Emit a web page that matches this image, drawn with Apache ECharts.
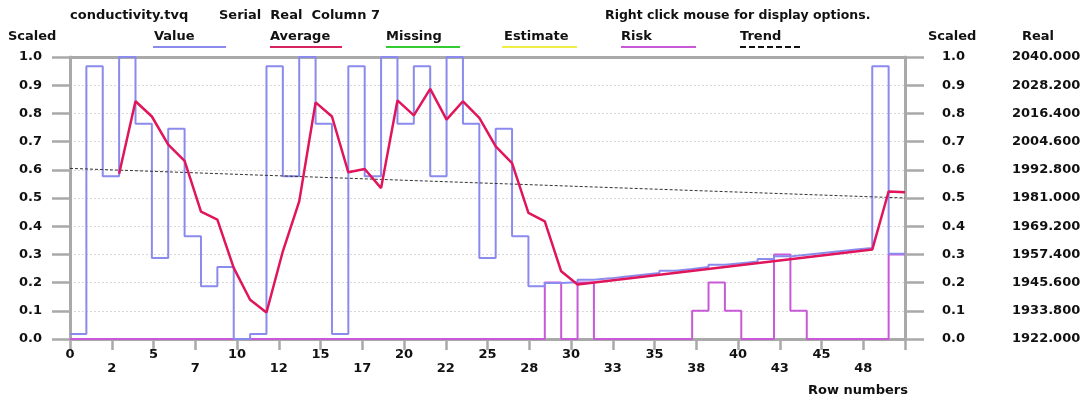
<!DOCTYPE html>
<html>
<head>
<meta charset="utf-8">
<script src="https://cdn.jsdelivr.net/npm/echarts@6/dist/echarts.min.js"></script>
<style>
  html, body { margin: 0; padding: 0; background: #ffffff; }
  #chart { width: 1088px; height: 399px; }
</style>
</head>
<body>
<div id="chart"></div>
<script>
// ---------- data ----------
const xTickLabels = ['0','2','5','7','10','12','15','17','20','22','25','28','30','33','35','38','40','43','45','48'];
const scaledTickLabels = ['0.0','0.1','0.2','0.3','0.4','0.5','0.6','0.7','0.8','0.9','1.0'];
const realTickLabels = ['1922.000','1933.800','1945.600','1957.400','1969.200','1981.000','1992.800','2004.600','2016.400','2028.200','2040.000'];

// one value per row (rows 0..50)
const valueSeries = [
  0.018, 0.967, 0.577, 1.000, 0.763, 0.287, 0.746, 0.364, 0.187, 0.255,
  0.000, 0.018, 0.967, 0.577, 1.000, 0.763, 0.018, 0.967, 0.577, 1.000,
  0.763, 0.967, 0.577, 1.000, 0.763, 0.287, 0.746, 0.364, 0.187, 0.199,
  0.201, 0.210, 0.215, 0.222, 0.228, 0.234, 0.242, 0.248, 0.255, 0.263,
  0.269, 0.275, 0.284, 0.293, 0.299, 0.305, 0.311, 0.317, 0.323, 0.967,
  0.302
];
const riskSeries = [
  0, 0, 0, 0, 0, 0, 0, 0, 0, 0,
  0, 0, 0, 0, 0, 0, 0, 0, 0, 0,
  0, 0, 0, 0, 0, 0, 0, 0, 0, 0.2,
  0, 0.2, 0, 0, 0, 0, 0, 0, 0.1, 0.2,
  0.1, 0, 0, 0.3, 0.1, 0, 0, 0, 0, 0,
  0.3
];
const averageRows = [3,4,5,6,7,8,9,10,11,12,13,14,15,16,17,18,19,20,21,22,23,24,25,26,27,28,29,30,31,49,50,51];
const averageValues = [0.586,0.843,0.789,0.689,0.632,0.452,0.423,0.252,0.139,0.094,0.311,0.488,0.839,0.789,0.591,0.603,0.535,0.846,0.793,0.887,0.778,0.843,0.784,0.683,0.624,0.447,0.417,0.240,0.193,0.317,0.523,0.520];
const trendRows = [0, 51];
const trendValues = [0.605, 0.500];

// ---------- build ----------
const FONT = '"DejaVu Sans", Verdana, sans-serif';
const stepData = arr => arr.map((v, i) => [i, v]).concat([[arr.length, arr[arr.length - 1]]]);
const pairs = (xs, ys) => xs.map((x, i) => [x, ys[i]]);
const AXIS = '#a9a9a9';
const lblStyle = { color: '#111', fontFamily: FONT, fontWeight: 'bold', fontSize: 13 };

const chart = echarts.init(document.getElementById('chart'), null, { renderer: 'canvas' });

const txt = (x, y, s, extra) => ({
  type: 'text', x: x, y: y, z: 10,
  style: Object.assign({ text: s, fill: '#111', font: 'bold 13px ' + FONT, verticalAlign: 'middle', align: 'left' }, extra || {})
});
const ln = (x1, x2, y, color, dash) => ({
  type: 'line', z: 10,
  shape: { x1: x1, y1: y, x2: x2, y2: y },
  style: { stroke: color, lineWidth: 2, lineDash: dash || null }
});

chart.setOption({
  backgroundColor: '#ffffff',
  animation: false,
  grid: { left: 70, right: 183, top: 57, bottom: 60, containLabel: false },
  xAxis: [
    {
      type: 'value', min: 0, max: 51, interval: 2.55, position: 'bottom',
      axisLine: { show: true, onZero: false, lineStyle: { color: AXIS, width: 3 } },
      axisTick: { show: true, inside: false, length: 11, lineStyle: { color: AXIS, width: 2.5 } },
      splitLine: { show: false },
      axisLabel: Object.assign({}, lblStyle, {
        margin: 9, lineHeight: 14, showMaxLabel: true, showMinLabel: true,
        formatter: function (v) {
          const k = Math.round(v / 2.55);
          const s = xTickLabels[k];
          if (s === undefined) return '';
          return k % 2 === 1 ? '\n' + s : s;
        }
      })
    },
    {
      type: 'value', position: 'top', min: 0, max: 51,
      axisLine: { show: true, onZero: false, lineStyle: { color: AXIS, width: 3 } },
      axisTick: { show: false }, axisLabel: { show: false }, splitLine: { show: false }
    }
  ],
  yAxis: [
    {
      type: 'value', min: 0, max: 1, interval: 0.1, position: 'left',
      axisLine: { show: true, onZero: false, lineStyle: { color: AXIS, width: 3 } },
      axisTick: { show: true, length: 18, lineStyle: { color: AXIS, width: 2.5 } },
      splitLine: { show: true, lineStyle: { color: '#d8d8d8', type: [2, 2], width: 1 } },
      axisLabel: Object.assign({}, lblStyle, {
        margin: 28,
        formatter: v => scaledTickLabels[Math.round(v * 10)]
      })
    },
    {
      type: 'value', min: 0, max: 1, interval: 0.1, position: 'right',
      axisLine: { show: true, onZero: false, lineStyle: { color: AXIS, width: 3 } },
      axisTick: { show: true, inside: false, length: 19, lineStyle: { color: AXIS, width: 2.5 } },
      splitLine: { show: false },
      axisLabel: Object.assign({}, lblStyle, {
        margin: 37,
        formatter: v => scaledTickLabels[Math.round(v * 10)]
      })
    },
    {
      type: 'value', min: 0, max: 1, interval: 0.1, position: 'right', offset: 0,
      axisLine: { show: false, onZero: false }, axisTick: { show: false }, splitLine: { show: false },
      axisLabel: Object.assign({}, lblStyle, {
        margin: 107,
        formatter: v => realTickLabels[Math.round(v * 10)]
      })
    }
  ],
  series: [
    {
      name: 'Risk', type: 'line', step: 'end', data: stepData(riskSeries),
      symbol: 'none', z: 2, lineStyle: { color: '#c85ad8', width: 2 }
    },
    {
      name: 'Value', type: 'line', step: 'end', data: stepData(valueSeries),
      symbol: 'none', z: 3, lineStyle: { color: '#8b8bee', width: 2 }
    },
    {
      name: 'Trend', type: 'line', data: pairs(trendRows, trendValues),
      symbol: 'none', z: 4, lineStyle: { color: '#333', width: 1, type: [3, 2] }
    },
    {
      name: 'Average', type: 'line', data: pairs(averageRows, averageValues),
      symbol: 'none', z: 5, lineStyle: { color: '#e0155c', width: 2.5 }
    }
  ],
  graphic: [
    txt(70, 16, 'conductivity.tvq'),
    txt(219, 16, 'Serial  Real  Column 7'),
    txt(605, 16, 'Right click mouse for display options.', { font: 'bold 12.5px ' + FONT }),
    txt(8, 37, 'Scaled'),
    txt(154, 37, 'Value'),
    ln(153, 226, 47, '#8b8bee'),
    txt(270, 37, 'Average'),
    ln(270, 342, 47, '#d8245e'),
    txt(386, 37, 'Missing'),
    ln(386, 460, 47, '#33cc33'),
    txt(504, 37, 'Estimate'),
    ln(502, 577, 47, '#eeee44'),
    txt(621, 37, 'Risk'),
    ln(621, 696, 47, '#c85ad8'),
    txt(740, 37, 'Trend'),
    ln(740, 803, 47, '#111', [6, 3]),
    txt(928, 37, 'Scaled'),
    txt(1022, 37, 'Real'),
    txt(858, 391, 'Row numbers', { align: 'center' })
  ]
});
</script>
</body>
</html>
